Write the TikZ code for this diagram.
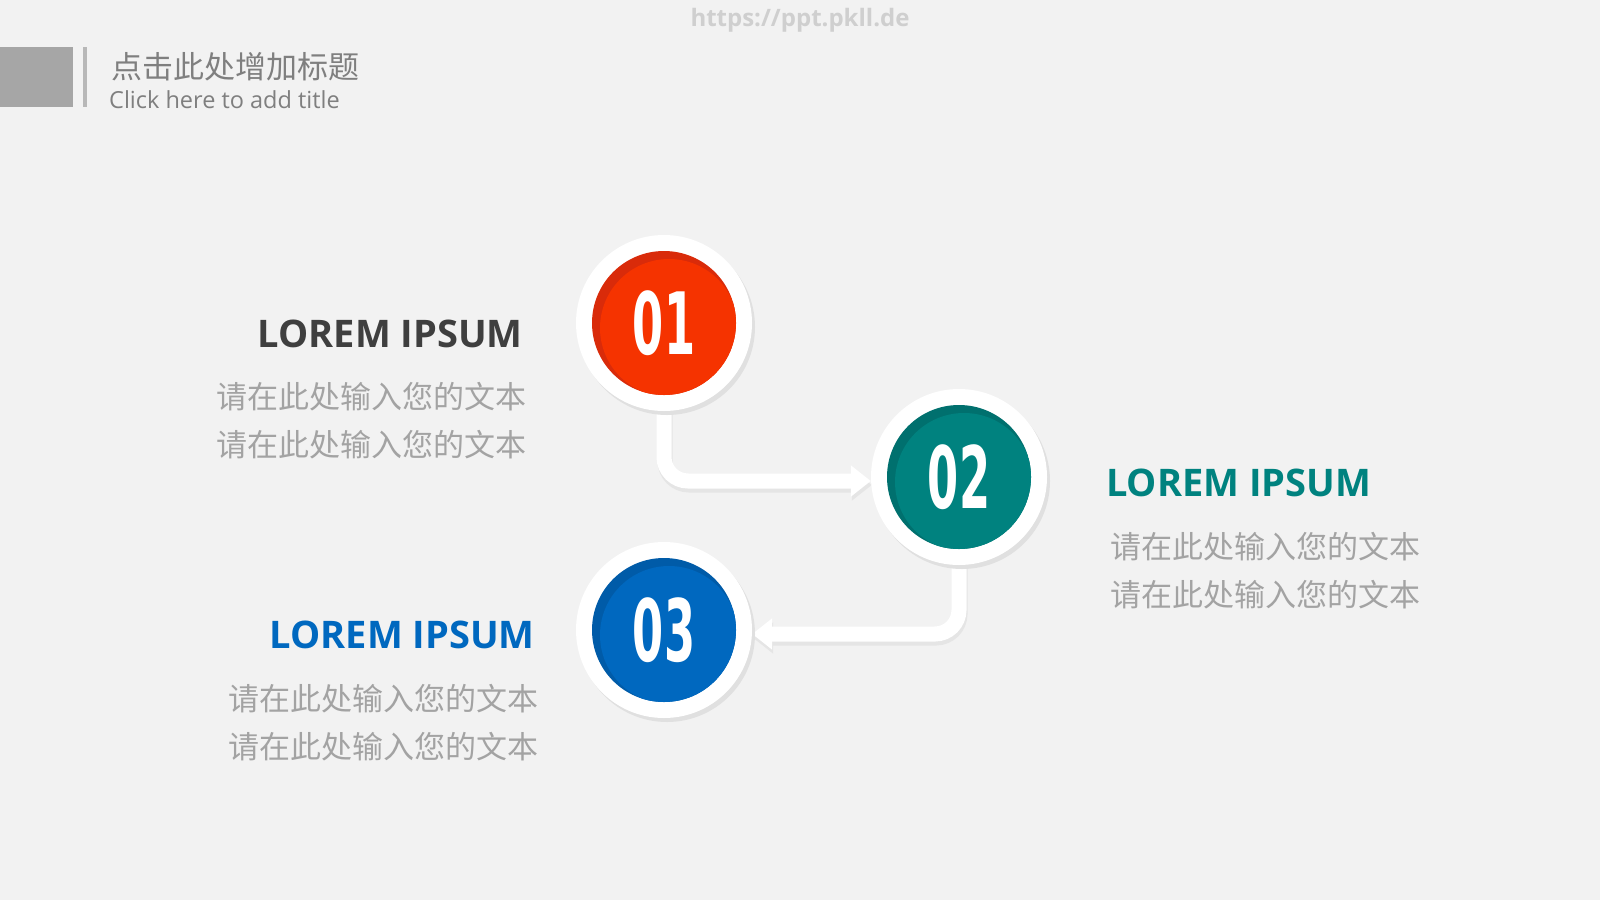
\documentclass[tikz,border=0pt]{standalone}
\usepackage{fontspec}
\setmainfont{Open Sans}
\newfontfamily\cjk{Noto Sans CJK SC}
\newfontfamily\numfont[FakeStretch=0.52]{DejaVu Sans}
\usetikzlibrary{positioning, arrows.meta, shadows, backgrounds}

\definecolor{bgcol}{HTML}{F2F2F2}
\definecolor{redA}{HTML}{F53300}
\definecolor{redB}{HTML}{D92B0A}
\definecolor{tealA}{HTML}{00827F}
\definecolor{tealB}{HTML}{00706E}
\definecolor{blueA}{HTML}{0068BF}
\definecolor{blueB}{HTML}{005BA8}
\definecolor{headgray}{HTML}{3F3F3F}
\definecolor{txtgray}{HTML}{A3A3A3}
\definecolor{titlegray}{HTML}{7F7F7F}
\definecolor{barcol}{HTML}{A6A6A6}
\definecolor{markcol}{HTML}{CFCFCF}

\begin{document}
\begin{tikzpicture}[
    x=1pt, y=-1pt,
    ring/.style={
        circle,
        fill=white,
        inner sep=0pt,
        minimum size=176pt,
        drop shadow={shadow xshift=3pt, shadow yshift=-4pt, fill=black!12, opacity=1}
    },
    disc/.style 2 args={
        circle,
        fill=#1,
        inner sep=0pt,
        minimum size=144pt,
        text=white,
        font=\numfont\bfseries\fontsize{86}{86}\selectfont,
        path picture={\fill[#2] ([shift={(5pt,-5pt)}]path picture bounding box.center) circle (69pt);}
    },
    link/.style={
        draw=white,
        line width=15pt,
        rounded corners=24pt,
        -{Triangle[length=20pt, width=30pt]}
    },
    linkshadow/.style={
        link,
        draw=black!10,
        transform canvas={shift={(1pt,-4pt)}}
    },
    head/.style={
        inner sep=0pt,
        font=\bfseries\fontsize{38}{38}\selectfont
    },
    body/.style={
        inner sep=0pt,
        text=txtgray,
        font=\cjk\fontsize{31}{48}\selectfont
    }
]
    \useasboundingbox (0,0) rectangle (1600,900);

    % Title bar
    \fill[barcol] (0,47) rectangle (73,107);
    \fill[barcol!80] (83,47) rectangle (87,107);
    \node[anchor=west, inner sep=0pt, text=titlegray, font=\cjk\fontsize{31}{31}\selectfont] (title) at (111,67) {点击此处增加标题};
    \node[anchor=west, inner sep=0pt, text=titlegray, font=\fontsize{23.5}{23.5}\selectfont] (subtitle) at (109,100) {Click here to add title};
    \node[inner sep=0pt, text=markcol, font=\bfseries\fontsize{24}{24}\selectfont] (url) at (800,20) {https://ppt.pkll.de};

    % Steps
    \node[ring] (c1) at (664,323) {};
    \node[disc={redB}{redA}] (d1) at (c1) {01};
    \node[ring] (c2) at (959,477) {};
    \node[disc={tealB}{tealA}] (d2) at (c2) {02};
    \node[ring] (c3) at (664,630) {};
    \node[disc={blueB}{blueA}] (d3) at (c3) {03};

    % Texts
    \node[head, text=headgray, anchor=base east] (h1) at (523,347) {LOREM IPSUM};
    \node[body, anchor=east, align=right] (b1) at (527,421) {请在此处输入您的文本\\请在此处输入您的文本};

    \node[head, text=tealA, anchor=base west] (h2) at (1106,496) {LOREM IPSUM};
    \node[body, anchor=west, align=left] (b2) at (1110,571) {请在此处输入您的文本\\请在此处输入您的文本};

    \node[head, text=blueA, anchor=base east] (h3) at (535,648) {LOREM IPSUM};
    \node[body, anchor=east, align=right] (b3) at (539,723) {请在此处输入您的文本\\请在此处输入您的文本};

    % Connectors
    \begin{scope}[on background layer]
        \fill[bgcol] (0,0) rectangle (1600,900);
        \draw[linkshadow] (c1.south) |- ([yshift=-4pt]c2.west);
        \draw[link] (c1.south) |- ([yshift=-4pt]c2.west);
        \draw[linkshadow] (c2.south) |- ([yshift=-4pt]c3.east);
        \draw[link] (c2.south) |- ([yshift=-4pt]c3.east);
    \end{scope}
\end{tikzpicture}
\end{document}
